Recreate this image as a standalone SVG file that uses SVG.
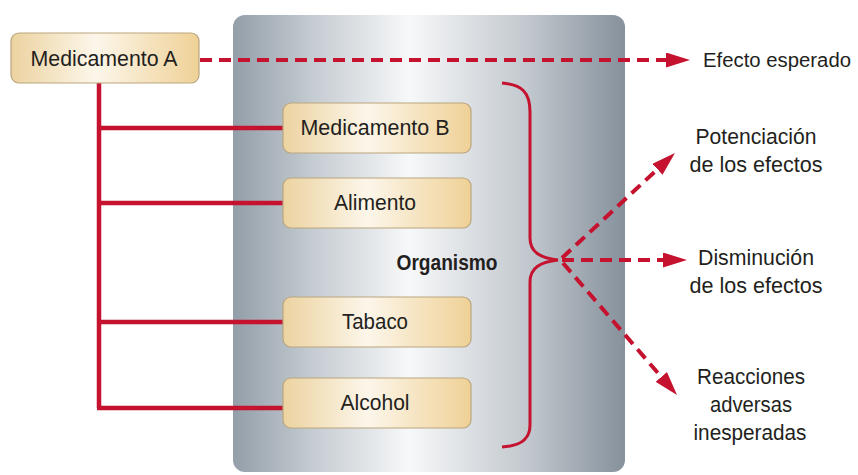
<svg xmlns="http://www.w3.org/2000/svg" width="858" height="475" viewBox="0 0 858 475">
<defs>
<linearGradient id="panelGrad" x1="0" y1="0" x2="1" y2="0">
<stop offset="0" stop-color="#939ea8"/>
<stop offset="0.2" stop-color="#c4cbd1"/>
<stop offset="0.45" stop-color="#f7f8f9"/>
<stop offset="0.75" stop-color="#c2c8ce"/>
<stop offset="1" stop-color="#86919c"/>
</linearGradient>
<linearGradient id="boxGrad" x1="0" y1="0" x2="1" y2="0">
<stop offset="0" stop-color="#ecd3a0"/>
<stop offset="0.45" stop-color="#fcf6ea"/>
<stop offset="1" stop-color="#efd196"/>
</linearGradient>
<marker id="arrow" markerUnits="userSpaceOnUse" markerWidth="24" markerHeight="15" refX="0" refY="7.5" orient="auto">
<path d="M0,0 L24,7.5 L0,15 z" fill="#c4122f"/>
</marker>
<style>
.box { fill: url(#boxGrad); stroke: #b9a57f; stroke-width: 1.2; }
.lbl { font-family: "Liberation Sans", Arial, sans-serif; font-size: 22px; fill: #231f20; text-anchor: middle; }
.bold { font-weight: bold; }
.solid { fill: none; stroke: #c4122f; stroke-width: 4.5; }
.dash { fill: none; stroke: #c4122f; stroke-width: 4; stroke-dasharray: 12 7; }
.brace { fill: none; stroke: #c4122f; stroke-width: 3; }
</style>
</defs>
<rect width="858" height="475" fill="#ffffff"/>

<g id="organismo">
<rect x="233" y="15" width="392" height="457" rx="12" fill="url(#panelGrad)"/>
<text class="lbl bold" x="447" y="270" textLength="101" lengthAdjust="spacingAndGlyphs">Organismo</text>
</g>

<g id="connectors">
<path class="solid" d="M99,83 V408"/>
<path class="solid" d="M97,128 H283 M97,203 H283 M97,322 H283 M97,408 H283"/>
<path class="dash" d="M200,60 H666" marker-end="url(#arrow)"/>
<path class="brace" d="M502,83 C522,85 530,92 530,112 L530,238 C530,252 540,258 558,260 C540,262 530,268 530,282 L530,425 C530,440 520,446 502,447"/>
<path class="dash" d="M562,258 L657.4,169.3" marker-end="url(#arrow)"/>
<path class="dash" d="M562,260 H663" marker-end="url(#arrow)"/>
<path class="dash" d="M563,263 L661.3,376.9" marker-end="url(#arrow)"/>
</g>

<g id="medicamentoA">
<rect class="box" x="11" y="33" width="188" height="50" rx="8"/>
<text class="lbl" x="104" y="66" textLength="147" lengthAdjust="spacingAndGlyphs">Medicamento A</text>
</g>
<g id="medicamentoB">
<rect class="box" x="283" y="103" width="188" height="50" rx="8"/>
<text class="lbl" x="375" y="135" textLength="149" lengthAdjust="spacingAndGlyphs">Medicamento B</text>
</g>
<g id="alimento">
<rect class="box" x="283" y="178" width="188" height="50" rx="8"/>
<text class="lbl" x="375" y="210" textLength="82" lengthAdjust="spacingAndGlyphs">Alimento</text>
</g>
<g id="tabaco">
<rect class="box" x="283" y="297" width="188" height="50" rx="8"/>
<text class="lbl" x="375" y="329" textLength="66" lengthAdjust="spacingAndGlyphs">Tabaco</text>
</g>
<g id="alcohol">
<rect class="box" x="283" y="378" width="188" height="50" rx="8"/>
<text class="lbl" x="375" y="410" textLength="69" lengthAdjust="spacingAndGlyphs">Alcohol</text>
</g>

<g id="efectoEsperado">
<text class="lbl" x="777" y="67" font-size="20" style="font-size:20px" textLength="148" lengthAdjust="spacingAndGlyphs">Efecto esperado</text>
</g>
<g id="potenciacion">
<text class="lbl" x="756" y="144" textLength="121" lengthAdjust="spacingAndGlyphs">Potenciación</text>
<text class="lbl" x="756" y="172" textLength="133" lengthAdjust="spacingAndGlyphs">de los efectos</text>
</g>
<g id="disminucion">
<text class="lbl" x="756" y="265" textLength="116" lengthAdjust="spacingAndGlyphs">Disminución</text>
<text class="lbl" x="756" y="293" textLength="133" lengthAdjust="spacingAndGlyphs">de los efectos</text>
</g>
<g id="reacciones">
<text class="lbl" x="751" y="384" textLength="108" lengthAdjust="spacingAndGlyphs">Reacciones</text>
<text class="lbl" x="751" y="412" textLength="82" lengthAdjust="spacingAndGlyphs">adversas</text>
<text class="lbl" x="750" y="440" textLength="113" lengthAdjust="spacingAndGlyphs">inesperadas</text>
</g>
</svg>
